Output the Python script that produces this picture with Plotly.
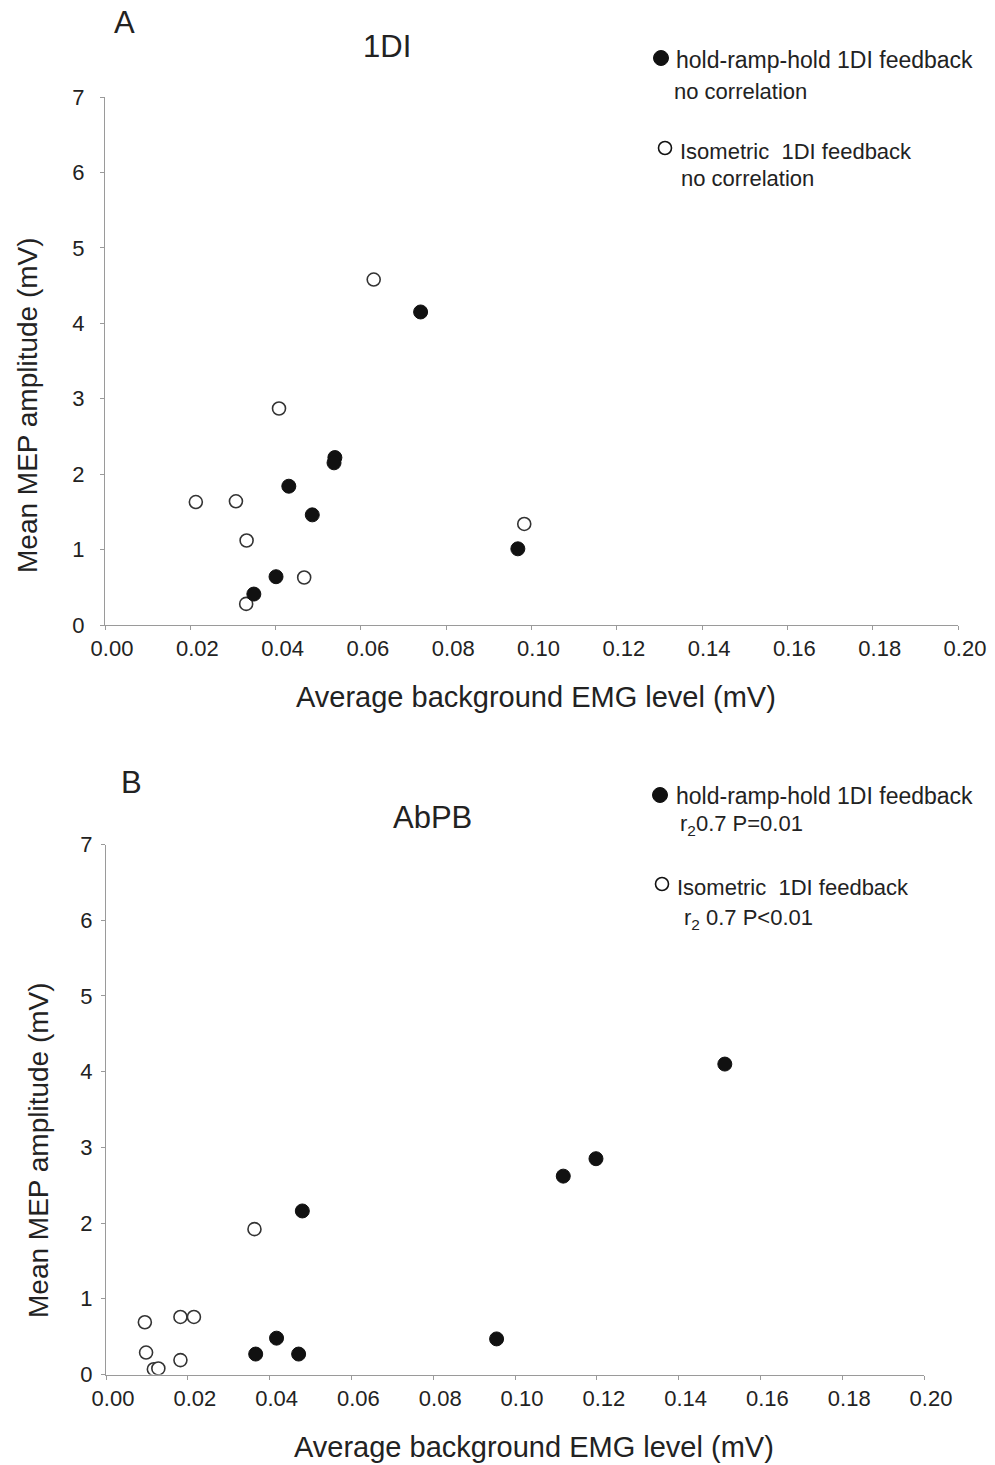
import plotly.graph_objects as go

# Panel A (1DI)
a_hold_x = [0.0740, 0.0539, 0.0537, 0.0431, 0.0486, 0.0401, 0.0349, 0.0968]
a_hold_y = [4.15, 2.22, 2.15, 1.84, 1.46, 0.64, 0.41, 1.01]
a_iso_x = [0.0630, 0.0408, 0.0213, 0.0307, 0.0332, 0.0467, 0.0331, 0.0983]
a_iso_y = [4.58, 2.87, 1.63, 1.64, 1.12, 0.63, 0.28, 1.34]

# Panel B (AbPB)
b_hold_x = [0.0480, 0.0366, 0.0417, 0.0471, 0.0955, 0.1118, 0.1198, 0.1513]
b_hold_y = [2.16, 0.27, 0.48, 0.27, 0.47, 2.62, 2.85, 4.10]
b_iso_x = [0.0095, 0.0098, 0.0117, 0.0128, 0.0182, 0.0182, 0.0215, 0.0363]
b_iso_y = [0.69, 0.29, 0.07, 0.08, 0.19, 0.76, 0.76, 1.92]

x_ticks = [0.00, 0.02, 0.04, 0.06, 0.08, 0.10, 0.12, 0.14, 0.16, 0.18, 0.20]
y_ticks = [0, 1, 2, 3, 4, 5, 6, 7]

W, H = 995, 1465
FONT = "Liberation Sans, Arial, sans-serif"
TXT = "#222222"

def px(x):
    return x / W

def py(y):
    return 1 - y / H

fig = go.Figure()

filled = dict(color="#111111", size=14, line=dict(color="#111111", width=1))
hollow = dict(color="white", size=13, line=dict(color="#333333", width=1.6))

fig.add_trace(go.Scatter(x=a_iso_x, y=a_iso_y, mode="markers", marker=hollow,
                         xaxis="x", yaxis="y", showlegend=False))
fig.add_trace(go.Scatter(x=a_hold_x, y=a_hold_y, mode="markers", marker=filled,
                         xaxis="x", yaxis="y", showlegend=False))
fig.add_trace(go.Scatter(x=b_iso_x, y=b_iso_y, mode="markers", marker=hollow,
                         xaxis="x2", yaxis="y2", showlegend=False))
fig.add_trace(go.Scatter(x=b_hold_x, y=b_hold_y, mode="markers", marker=filled,
                         xaxis="x2", yaxis="y2", showlegend=False))

axis_common = dict(showgrid=False, zeroline=False, showline=True, linecolor="#9a9a9a",
                   linewidth=1, ticks="outside", ticklen=4, tickcolor="#9a9a9a",
                   automargin=False,
                   tickfont=dict(family=FONT, size=22, color=TXT))

xa = dict(axis_common, range=[0, 0.2], tickvals=x_ticks, tickformat=".2f",
          ticklabelshift=7)
ya = dict(axis_common, range=[0, 7], tickvals=y_ticks)

fig.update_layout(
    width=W, height=H,
    margin=dict(l=0, r=0, t=0, b=0, pad=0, autoexpand=False),
    paper_bgcolor="white", plot_bgcolor="white",
    xaxis=dict(xa, domain=[px(105), px(958)], anchor="y"),
    yaxis=dict(ya, domain=[py(625), py(97)], anchor="x", ticklabelstandoff=11),
    xaxis2=dict(xa, domain=[px(106), px(924)], anchor="y2"),
    yaxis2=dict(ya, domain=[py(1374.5), py(844.5)], anchor="x2", ticklabelstandoff=4),
)

def ann(text, x, y, size, xanchor="center", angle=0):
    fig.add_annotation(text=text, x=px(x), y=py(y), xref="paper", yref="paper",
                       showarrow=False, xanchor=xanchor, yanchor="middle",
                       textangle=angle, font=dict(family=FONT, size=size, color=TXT))

# Panel labels and titles
ann("A", 125, 22, 31)
ann("1DI", 387, 47, 31)
ann("B", 131, 782, 31)
ann("AbPB", 432, 818, 31)

# Axis titles
ann("Mean MEP amplitude (mV)", 27, 405, 28, angle=-90)
ann("Average background EMG level (mV)", 536, 697, 29)
ann("Mean MEP amplitude (mV)", 38, 1150, 28, angle=-90)
ann("Average background EMG level (mV)", 534, 1447, 29)

# Legend texts
ann("hold-ramp-hold 1DI feedback", 674, 60, 23, xanchor="left")
ann("no correlation", 672, 92, 22, xanchor="left")
ann("Isometric  1DI feedback", 678, 151, 22, xanchor="left")
ann("no correlation", 679, 179, 22, xanchor="left")

ann("hold-ramp-hold 1DI feedback", 674, 796, 23, xanchor="left")
ann("r<sub>2</sub>0.7 P=0.01", 678, 825, 22, xanchor="left")
ann("Isometric  1DI feedback", 675, 887, 22, xanchor="left")
ann("r<sub>2</sub> 0.7 P<0.01", 682, 919, 22, xanchor="left")

# Legend markers
def legend_marker(cx, cy, d, fill, line_w):
    fig.add_shape(type="circle", xref="paper", yref="paper",
                  xsizemode="pixel", ysizemode="pixel",
                  xanchor=px(cx), yanchor=py(cy),
                  x0=-d / 2, x1=d / 2, y0=-d / 2, y1=d / 2,
                  fillcolor=fill, line=dict(color="#111111", width=line_w))

legend_marker(661, 58, 15, "#111111", 1)
legend_marker(665, 148, 13, "white", 1.6)
legend_marker(660, 795, 15, "#111111", 1)
legend_marker(662, 884, 13, "white", 1.6)

fig.write_html("out.html")
